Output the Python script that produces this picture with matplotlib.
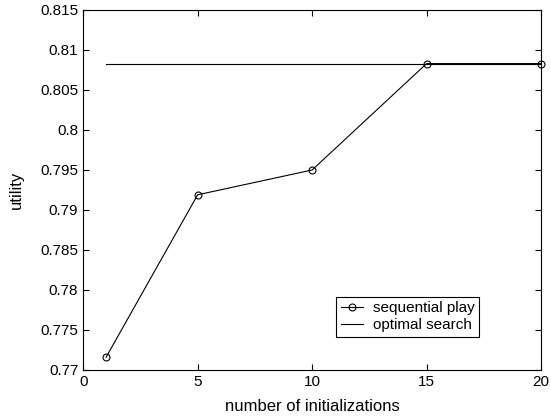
import matplotlib
matplotlib.use("Agg")
import matplotlib.pyplot as plt

plt.rcParams["font.family"] = ["Liberation Sans", "DejaVu Sans"]

# utility vs. number of initializations
inits = [1, 5, 10, 15, 20]
seq_utility = [0.7716, 0.7919, 0.7950, 0.8083, 0.8083]
opt_x = [1, 20]
opt_utility = [0.8083, 0.8083]

fig = plt.figure(figsize=(5.51, 4.16), dpi=100)
ax = fig.add_axes([0.151, 0.1106, 0.831, 0.8654])

ax.plot(inits, seq_utility, "-o", color="black", linewidth=0.8,
        markersize=5, markerfacecolor="none", markeredgewidth=0.8,
        label="sequential play", clip_on=False, zorder=3)
ax.plot(opt_x, opt_utility, "-", color="black", linewidth=0.8,
        label="optimal search")

ax.set_xlim(0, 20)
ax.set_ylim(0.77, 0.815)
ax.set_xticks([0, 5, 10, 15, 20])
ax.set_yticks([0.77, 0.775, 0.78, 0.785, 0.79, 0.795, 0.8, 0.805, 0.81, 0.815])
ax.set_yticklabels(["0.77", "0.775", "0.78", "0.785", "0.79", "0.795",
                    "0.8", "0.805", "0.81", "0.815"])
ax.tick_params(direction="in", top=True, right=True, labelsize=11, length=4,
               width=0.8)
for s in ax.spines.values():
    s.set_linewidth(0.8)

ax.set_xlabel("number of initializations", fontsize=12, labelpad=7)
ax.set_ylabel("utility", fontsize=12, labelpad=12)

leg = ax.legend(loc="lower left", bbox_to_anchor=(0.552, 0.092),
                fontsize=11, fancybox=False, framealpha=1, edgecolor="black",
                borderpad=0.3, handlelength=1.5, handletextpad=0.6,
                labelspacing=0.2, borderaxespad=0)
leg.get_frame().set_linewidth(0.8)

fig.savefig("out.png", dpi=100)
